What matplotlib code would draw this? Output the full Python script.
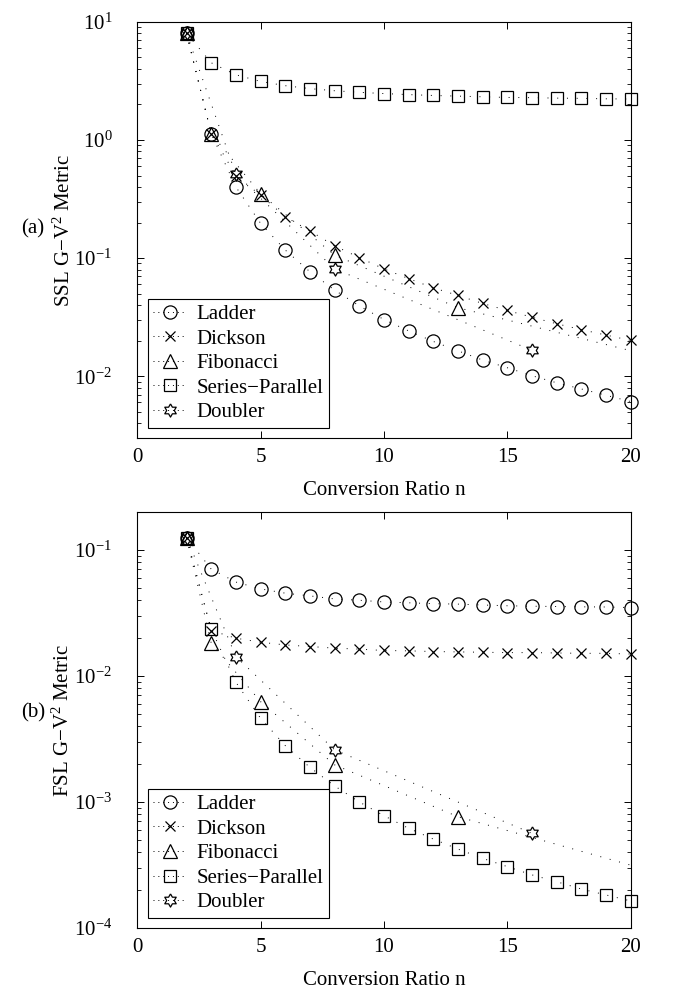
import numpy as np
import matplotlib
matplotlib.use('Agg')
import matplotlib.pyplot as plt
from matplotlib.lines import Line2D

plt.rcParams['font.family'] = ['Liberation Serif', 'DejaVu Serif']
plt.rcParams['mathtext.fontset'] = 'custom'
plt.rcParams['mathtext.rm'] = 'Liberation Serif'
plt.rcParams['mathtext.it'] = 'Liberation Serif:italic'
plt.rcParams['font.size'] = 15

# conversion ratios
n_all = list(range(2, 21))
n_fib = [2, 3, 5, 8, 13, 21]
n_dbl = [2, 4, 8, 16]

# (a) SSL metric
ssl_ladder = [8.0, 1.13, 0.40, 0.197, 0.117, 0.0766, 0.0536, 0.0394, 0.0302, 0.0242,
              0.0197, 0.0164, 0.0137, 0.0118, 0.0101, 0.0088, 0.0078, 0.0069, 0.0061]
ssl_dickson = [8.0, 1.13, 0.50, 0.34, 0.224, 0.17, 0.127, 0.101, 0.081, 0.067,
               0.056, 0.0483, 0.0413, 0.036, 0.0316, 0.0278, 0.0248, 0.0223, 0.0201]
ssl_fib = [8.0, 1.13, 0.35, 0.106, 0.038, 0.0146]
ssl_sp = [8.0, 4.5, 3.56, 3.13, 2.88, 2.72, 2.61, 2.53, 2.47, 2.42,
          2.38, 2.35, 2.32, 2.29, 2.28, 2.26, 2.25, 2.23, 2.22]
ssl_dbl = [8.0, 0.51, 0.081, 0.0166]

# (b) FSL metric
fsl_ladder = [0.125, 0.0703, 0.0555, 0.049, 0.0453, 0.0431, 0.0408, 0.0398, 0.0386, 0.038,
              0.0374, 0.0371, 0.0365, 0.036, 0.0357, 0.0355, 0.0353, 0.0352, 0.0348]
fsl_dickson = [0.125, 0.0229, 0.0199, 0.0185, 0.0176, 0.0171, 0.0166, 0.0163, 0.0159, 0.0158,
               0.0156, 0.0155, 0.0154, 0.0153, 0.0153, 0.0152, 0.0151, 0.0151, 0.0149]
fsl_fib = [0.125, 0.0182, 0.00625, 0.00197, 0.000764, 0.000278]
fsl_sp = [0.125, 0.0234, 0.0089, 0.00461, 0.0028, 0.00188, 0.00134, 0.001, 0.000778, 0.000618,
          0.000508, 0.000423, 0.000357, 0.000307, 0.000264, 0.000233, 0.000204, 0.000183, 0.000164]
fsl_dbl = [0.125, 0.0142, 0.00259, 0.000564]

labels = ['Ladder', 'Dickson', 'Fibonacci', 'Series\u2212Parallel', 'Doubler']

# six-pointed star (hexagram) marker
ang_out = np.deg2rad(90 + 60 * np.arange(6))
ang_in = np.deg2rad(120 + 60 * np.arange(6))
hexagram = []
for a, b in zip(ang_out, ang_in):
    hexagram.append((np.cos(a), np.sin(a)))
    hexagram.append((np.cos(b) / np.sqrt(3), np.sin(b) / np.sqrt(3)))
hexagram.append(hexagram[0])

styles = [dict(marker='o', markersize=9.5),
          dict(marker='x', markersize=7.5),
          dict(marker='^', markersize=10),
          dict(marker='s', markersize=8.5),
          dict(marker=hexagram, markersize=9.5)]
dotted = (0, (1, 9))


def draw(ax, series, ylim, ylabel):
    for (xs, ys), st in zip(series, styles):
        ax.plot(xs, ys, color='k', lw=0.7, linestyle=dotted)
        xm = [x for x in xs if x <= 20]
        ym = [y for x, y in zip(xs, ys) if x <= 20]
        ax.plot(xm, ym, linestyle='none', mfc='none', mec='k', mew=0.9,
                clip_on=False, zorder=3, **st)
    ax.set_yscale('log')
    ax.set_xlim(0, 20)
    ax.set_ylim(*ylim)
    ax.set_xticks([0, 5, 10, 15, 20])
    ax.tick_params(which='both', direction='in', top=True, right=True, labelsize=15)
    ax.tick_params(which='major', length=5, width=0.7)
    ax.tick_params(which='minor', length=3, width=0.6)
    ax.tick_params(axis='x', pad=7)
    ax.tick_params(axis='y', pad=18)
    for s in ax.spines.values():
        s.set_linewidth(0.8)
    ax.set_xlabel('Conversion Ratio n', fontsize=15, labelpad=10)
    ax.set_ylabel(ylabel, fontsize=15, labelpad=0)
    handles = [Line2D([], [], color='k', lw=0.7, linestyle=(0, (1, 4)), mfc='none',
                      mec='k', mew=0.9, **st) for st in styles]
    leg = ax.legend(handles, labels, loc='lower left', fontsize=15, frameon=True,
                    fancybox=False, edgecolor='k', framealpha=1, borderpad=0.25,
                    labelspacing=0.24, handlelength=1.6, handletextpad=0.5,
                    borderaxespad=0.5)
    leg.get_frame().set_linewidth(0.8)


fig = plt.figure(figsize=(6.81, 9.92), dpi=100)
ax1 = fig.add_axes([0.2015, 0.5585, 0.7245, 0.4195])
ax2 = fig.add_axes([0.2015, 0.0645, 0.7245, 0.4195])

draw(ax1, [(n_all, ssl_ladder), (n_all, ssl_dickson), (n_fib, ssl_fib),
           (n_all, ssl_sp), (n_dbl, ssl_dbl)], (0.003, 10), 'SSL G\u2212V$^2$ Metric')
draw(ax2, [(n_all, fsl_ladder), (n_all, fsl_dickson), (n_fib, fsl_fib),
           (n_all, fsl_sp), (n_dbl, fsl_dbl)], (1e-4, 0.2), 'FSL G\u2212V$^2$ Metric')

fig.text(33 / 681, 1 - 229 / 992, '(a)', fontsize=15, ha='center', va='center')
fig.text(33 / 681, 1 - 713 / 992, '(b)', fontsize=15, ha='center', va='center')

fig.savefig('out.png', dpi=100)
